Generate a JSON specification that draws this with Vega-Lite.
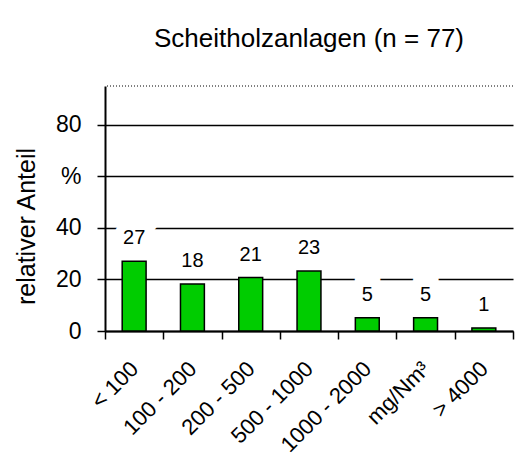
{
  "$schema": "https://vega.github.io/schema/vega-lite/v6.json",
  "width": 408,
  "height": 245,
  "autosize": {"type": "none"},
  "padding": {"left": 105, "top": 86, "right": 3, "bottom": 135},
  "background": "white",
  "title": {
    "text": "Scheitholzanlagen (n = 77)",
    "font": "Liberation Sans",
    "fontSize": 26,
    "fontWeight": "normal",
    "color": "black",
    "anchor": "middle",
    "offset": 34
  },
  "config": {
    "view": {"stroke": null},
    "axis": {
      "labelFont": "Liberation Sans",
      "titleFont": "Liberation Sans",
      "labelColor": "black",
      "titleColor": "black",
      "domainColor": "black",
      "tickColor": "black",
      "labelFontSize": 23,
      "titleFontSize": 25,
      "titleFontWeight": "normal"
    }
  },
  "data": {
    "values": [
      {"cat": "< 100", "value": 27.0, "label": "27"},
      {"cat": "100 - 200", "value": 18.2, "label": "18"},
      {"cat": "200 - 500", "value": 20.7, "label": "21"},
      {"cat": "500 - 1000", "value": 23.3, "label": "23"},
      {"cat": "1000 - 2000", "value": 5.1, "label": "5"},
      {"cat": "mg/Nm³", "value": 5.1, "label": "5"},
      {"cat": "> 4000", "value": 1.2, "label": "1"}
    ]
  },
  "encoding": {
    "x": {
      "field": "cat",
      "type": "nominal",
      "sort": null,
      "scale": {"paddingInner": 0, "paddingOuter": 0},
      "axis": {
        "title": null,
        "labelAngle": -45,
        "labelAlign": "right",
        "labelBaseline": "middle",
        "labelPadding": 26,
        "labelFontSize": 22,
        "labelOverlap": false,
        "tickBand": "extent",
        "tickSize": 8,
        "tickWidth": 1.5,
        "domainWidth": 2,
        "grid": false
      }
    },
    "y": {
      "field": "value",
      "type": "quantitative",
      "scale": {"domain": [0, 95], "nice": false},
      "axis": {
        "title": "relativer Anteil",
        "values": [0, 20, 40, 60, 80],
        "labelExpr": "datum.value == 60 ? '%' : datum.label",
        "grid": true,
        "gridColor": "black",
        "gridWidth": 1.5,
        "gridOpacity": 1,
        "tickSize": 8,
        "tickWidth": 1.5,
        "domainWidth": 2,
        "labelPadding": 16,
        "titleAngle": -90,
        "titleX": -79,
        "titleY": 140,
        "titleAlign": "center",
        "titleBaseline": "middle"
      }
    }
  },
  "layer": [
    {
      "data": {"values": [{"value": 95}]},
      "mark": {"type": "rule", "color": "black", "strokeDash": [1, 2], "strokeWidth": 1},
      "encoding": {"x": null}
    },
    {
      "mark": {"type": "bar", "width": {"band": 0.41}, "color": "#00cc00", "stroke": "black", "strokeWidth": 1.5}
    },
    {
      "mark": {"type": "text", "baseline": "bottom", "dy": -13, "font": "Liberation Sans", "fontSize": 20, "stroke": "white", "strokeWidth": 18, "fill": "white"},
      "encoding": {"text": {"field": "label"}}
    },
    {
      "mark": {"type": "text", "baseline": "bottom", "dy": -13, "font": "Liberation Sans", "fontSize": 20, "color": "black"},
      "encoding": {"text": {"field": "label"}}
    }
  ]
}
